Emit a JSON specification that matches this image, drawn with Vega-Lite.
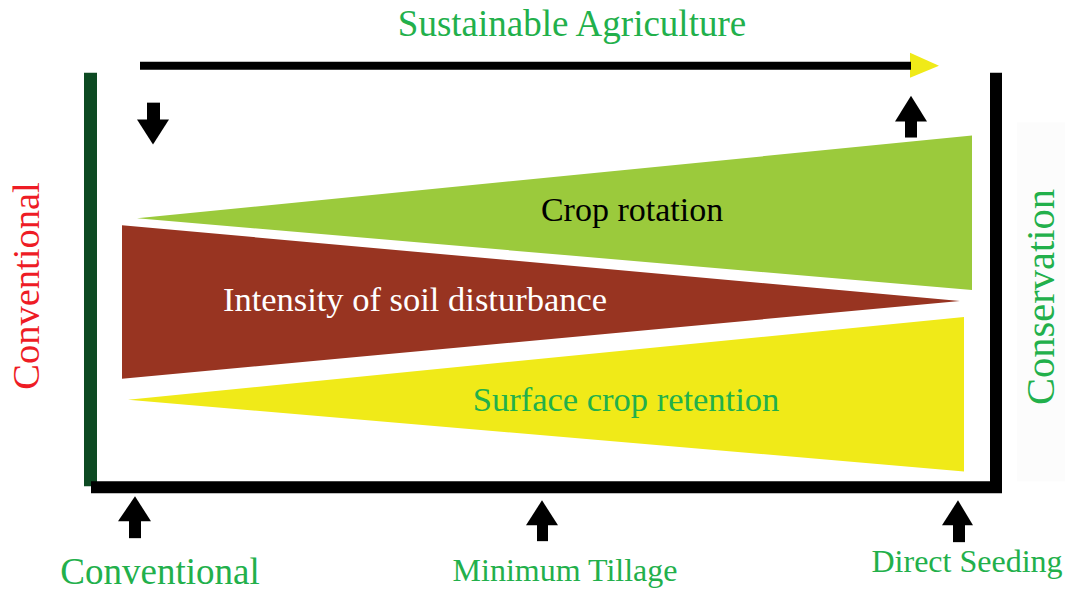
{
  "$schema": "https://vega.github.io/schema/vega-lite/v6.json",
  "width": 1065,
  "height": 591,
  "padding": 0,
  "autosize": {"type": "fit", "contains": "padding"},
  "background": "#ffffff",
  "config": {"view": {"stroke": null}, "text": {"font": "Liberation Serif, Times New Roman, serif"}},
  "datasets": {
    "rects": [
      {"id": "backdrop", "kind": "backdrop", "x": 1017, "x2": 1065, "y": 123, "y2": 483},
      {"id": "left frame", "kind": "left frame", "x": 84, "x2": 97, "y": 73, "y2": 488},
      {"id": "right frame", "kind": "frame", "x": 990, "x2": 1002, "y": 73, "y2": 494},
      {"id": "bottom frame", "kind": "frame", "x": 91, "x2": 1002, "y": 483, "y2": 495},
      {"id": "progress line", "kind": "frame", "x": 140, "x2": 911, "y": 62, "y2": 70},
      {"id": "shaft down", "kind": "frame", "x": 147, "x2": 160, "y": 103, "y2": 122},
      {"id": "shaft up top", "kind": "frame", "x": 905, "x2": 917, "y": 121, "y2": 138},
      {"id": "shaft conventional", "kind": "frame", "x": 129, "x2": 141, "y": 522, "y2": 540},
      {"id": "shaft minimum", "kind": "frame", "x": 537, "x2": 548, "y": 526, "y2": 543},
      {"id": "shaft direct", "kind": "frame", "x": 953, "x2": 965, "y": 526, "y2": 544}
    ],
    "polys": [
      {"id": "crop rotation", "kind": "crop rotation", "x": 137, "y": 219, "y2": 219},
      {"id": "crop rotation", "kind": "crop rotation", "x": 972, "y": 136, "y2": 291},
      {"id": "soil disturbance", "kind": "soil disturbance", "x": 122, "y": 226, "y2": 380},
      {"id": "soil disturbance", "kind": "soil disturbance", "x": 960, "y": 302, "y2": 302},
      {"id": "surface retention", "kind": "surface retention", "x": 128, "y": 401, "y2": 401},
      {"id": "surface retention", "kind": "surface retention", "x": 964, "y": 318, "y2": 473},
      {"id": "progress head", "kind": "progress head", "x": 910, "y": 53, "y2": 78},
      {"id": "progress head", "kind": "progress head", "x": 939, "y": 66, "y2": 66},
      {"id": "head down", "kind": "frame", "x": 137, "y": 120, "y2": 120},
      {"id": "head down", "kind": "frame", "x": 153, "y": 120, "y2": 145},
      {"id": "head down", "kind": "frame", "x": 169, "y": 120, "y2": 120},
      {"id": "head up top", "kind": "frame", "x": 895, "y": 122, "y2": 122},
      {"id": "head up top", "kind": "frame", "x": 911, "y": 96, "y2": 122},
      {"id": "head up top", "kind": "frame", "x": 927, "y": 122, "y2": 122},
      {"id": "head conventional", "kind": "frame", "x": 118, "y": 523, "y2": 523},
      {"id": "head conventional", "kind": "frame", "x": 135, "y": 498, "y2": 523},
      {"id": "head conventional", "kind": "frame", "x": 151, "y": 523, "y2": 523},
      {"id": "head minimum", "kind": "frame", "x": 526, "y": 527, "y2": 527},
      {"id": "head minimum", "kind": "frame", "x": 542, "y": 502, "y2": 527},
      {"id": "head minimum", "kind": "frame", "x": 558, "y": 527, "y2": 527},
      {"id": "head direct", "kind": "frame", "x": 942, "y": 527, "y2": 527},
      {"id": "head direct", "kind": "frame", "x": 958, "y": 502, "y2": 527},
      {"id": "head direct", "kind": "frame", "x": 973, "y": 527, "y2": 527}
    ],
    "labels": [
      {"id": "title", "text": "Sustainable Agriculture", "x": 572, "y": 25},
      {"id": "left", "text": "Conventional", "x": 27, "y": 287},
      {"id": "right", "text": "Conservation", "x": 1042, "y": 298},
      {"id": "crop", "text": "Crop rotation", "x": 632, "y": 212},
      {"id": "soil", "text": "Intensity of soil disturbance", "x": 415, "y": 302},
      {"id": "surface", "text": "Surface crop retention", "x": 626, "y": 402},
      {"id": "b1", "text": "Conventional", "x": 160, "y": 575},
      {"id": "b2", "text": "Minimum Tillage", "x": 565, "y": 573},
      {"id": "b3", "text": "Direct Seeding", "x": 967, "y": 564}
    ]
  },
  "layer": [
    {
      "data": {"name": "rects"},
      "transform": [{"filter": "datum.kind === 'backdrop'"}],
      "mark": {"type": "rect"},
      "encoding": {
        "x": {"field": "x", "type": "quantitative", "scale": {"domain": [0, 1065], "nice": false, "zero": false}, "axis": null},
        "x2": {"field": "x2"},
        "y": {"field": "y", "type": "quantitative", "scale": {"domain": [0, 591], "nice": false, "zero": false, "reverse": true}, "axis": null},
        "y2": {"field": "y2"},
        "color": {"field": "kind", "type": "nominal", "legend": null,
          "scale": {"domain": ["backdrop", "left frame", "frame", "crop rotation", "soil disturbance", "surface retention", "progress head"],
                    "range": ["#fcfcfc", "#0d4a22", "#000000", "#9bca3c", "#983421", "#f0ea18", "#f0ea18"]}}
      }
    },
    {
      "data": {"name": "polys"},
      "mark": {"type": "area", "orient": "vertical"},
      "encoding": {
        "x": {"field": "x", "type": "quantitative"},
        "y": {"field": "y", "type": "quantitative"},
        "y2": {"field": "y2"},
        "detail": {"field": "id", "type": "nominal"},
        "color": {"field": "kind", "type": "nominal", "legend": null}
      }
    },
    {
      "data": {"name": "rects"},
      "transform": [{"filter": "datum.kind !== 'backdrop'"}],
      "mark": {"type": "rect"},
      "encoding": {
        "x": {"field": "x", "type": "quantitative"},
        "x2": {"field": "x2"},
        "y": {"field": "y", "type": "quantitative"},
        "y2": {"field": "y2"},
        "color": {"field": "kind", "type": "nominal", "legend": null}
      }
    },
    {
      "data": {"name": "labels"},
      "transform": [{"filter": "datum.id === 'title'"}],
      "mark": {"type": "text", "fontSize": 37, "color": "#22b04b", "align": "center", "baseline": "middle"},
      "encoding": {"x": {"field": "x", "type": "quantitative"}, "y": {"field": "y", "type": "quantitative"}, "text": {"field": "text"}}
    },
    {
      "data": {"name": "labels"},
      "transform": [{"filter": "datum.id === 'left'"}],
      "mark": {"type": "text", "fontSize": 38.5, "color": "#ee1c25", "align": "center", "baseline": "middle", "angle": 270},
      "encoding": {"x": {"field": "x", "type": "quantitative"}, "y": {"field": "y", "type": "quantitative"}, "text": {"field": "text"}}
    },
    {
      "data": {"name": "labels"},
      "transform": [{"filter": "datum.id === 'right'"}],
      "mark": {"type": "text", "fontSize": 40.5, "color": "#22b04b", "align": "center", "baseline": "middle", "angle": 270},
      "encoding": {"x": {"field": "x", "type": "quantitative"}, "y": {"field": "y", "type": "quantitative"}, "text": {"field": "text"}}
    },
    {
      "data": {"name": "labels"},
      "transform": [{"filter": "datum.id === 'crop'"}],
      "mark": {"type": "text", "fontSize": 34, "color": "#000000", "align": "center", "baseline": "middle"},
      "encoding": {"x": {"field": "x", "type": "quantitative"}, "y": {"field": "y", "type": "quantitative"}, "text": {"field": "text"}}
    },
    {
      "data": {"name": "labels"},
      "transform": [{"filter": "datum.id === 'soil'"}],
      "mark": {"type": "text", "fontSize": 34.5, "color": "#ffffff", "align": "center", "baseline": "middle"},
      "encoding": {"x": {"field": "x", "type": "quantitative"}, "y": {"field": "y", "type": "quantitative"}, "text": {"field": "text"}}
    },
    {
      "data": {"name": "labels"},
      "transform": [{"filter": "datum.id === 'surface'"}],
      "mark": {"type": "text", "fontSize": 34.5, "color": "#22b04b", "align": "center", "baseline": "middle"},
      "encoding": {"x": {"field": "x", "type": "quantitative"}, "y": {"field": "y", "type": "quantitative"}, "text": {"field": "text"}}
    },
    {
      "data": {"name": "labels"},
      "transform": [{"filter": "datum.id === 'b1'"}],
      "mark": {"type": "text", "fontSize": 37, "color": "#22b04b", "align": "center", "baseline": "middle"},
      "encoding": {"x": {"field": "x", "type": "quantitative"}, "y": {"field": "y", "type": "quantitative"}, "text": {"field": "text"}}
    },
    {
      "data": {"name": "labels"},
      "transform": [{"filter": "datum.id === 'b2'"}],
      "mark": {"type": "text", "fontSize": 32, "color": "#22b04b", "align": "center", "baseline": "middle"},
      "encoding": {"x": {"field": "x", "type": "quantitative"}, "y": {"field": "y", "type": "quantitative"}, "text": {"field": "text"}}
    },
    {
      "data": {"name": "labels"},
      "transform": [{"filter": "datum.id === 'b3'"}],
      "mark": {"type": "text", "fontSize": 32, "color": "#22b04b", "align": "center", "baseline": "middle"},
      "encoding": {"x": {"field": "x", "type": "quantitative"}, "y": {"field": "y", "type": "quantitative"}, "text": {"field": "text"}}
    }
  ]
}
